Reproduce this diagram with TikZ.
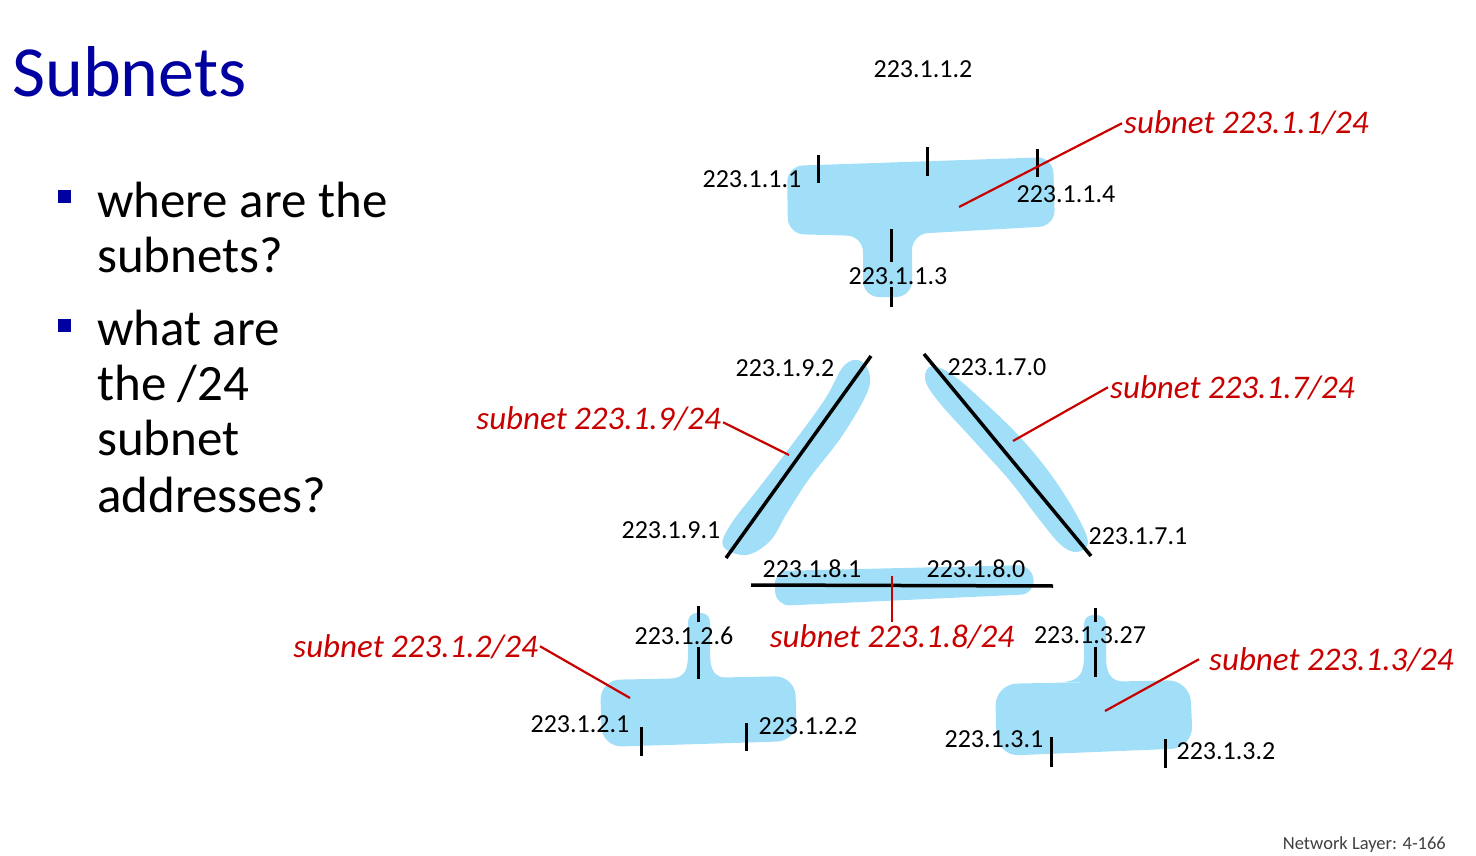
\documentclass[tikz,border=0pt]{standalone}
\usepackage{fontspec}
\setmainfont{Carlito}
\usetikzlibrary{positioning}
\definecolor{blobblue}{RGB}{160,223,247}
\definecolor{titleblue}{RGB}{0,0,160}
\definecolor{subnetred}{RGB}{200,0,0}
\begin{document}
\begin{tikzpicture}[x=1pt,y=-1pt]
	\tikzstyle{addr} = [inner sep=0pt, anchor=base, font=\fontsize{26}{30}\selectfont]
	\tikzstyle{subnet} = [inner sep=2pt, text=subnetred, font=\fontsize{33}{38}\selectfont\itshape]
	\tikzstyle{blob} = [fill=blobblue]
	\tikzstyle{link} = [draw, line width=3.5pt]
	\tikzstyle{iface} = [fill=black, inner sep=0pt, minimum width=3pt]
	\tikzstyle{leader} = [draw=subnetred, line width=2.2pt]
	\tikzstyle{line} = [anchor=base west, inner sep=0pt, font=\fontsize{51}{55}\selectfont]
	\tikzstyle{bulletsq} = [fill=titleblue, minimum size=13pt, inner sep=0pt]

	\useasboundingbox (0,0) rectangle (1476,856);

	% title and questions
	\node [anchor=base west, inner sep=0pt, text=titleblue, font=\fontsize{72}{80}\selectfont] (title) at (12,97) {Subnets};
	\node [bulletsq] (sq1) at (64,196.5) {};
	\node [line] (q1a) at (97,217) {where are the};
	\node [line] (q1b) at (97,272) {subnets?};
	\node [bulletsq] (sq2) at (64,325) {};
	\node [line] (q2a) at (97,345) {what are};
	\node [line] (q2b) at (97,400) {the /24};
	\node [line] (q2c) at (97,455) {subnet};
	\node [line] (q2d) at (97,512) {addresses?};

	% subnet 223.1.1
	\fill [blob, rounded corners=16pt] (787,166) -- (1053,157) -- (1055,226) -- (912,234) -- (912,297) -- (863,297) -- (863,236) -- (788,234) -- cycle;
	% subnet 223.1.2
	\fill [blob, rounded corners=20pt] (600,680) -- (795,676) -- (797,741) -- (602,747) -- cycle;
	\fill [blob, rounded corners=9pt] (688,690) -- (688,613) -- (710,613) -- (710,690) -- cycle;
	\fill [blob] (668,679) .. controls (686,678) and (688,670) .. (688,652) -- (710,652) .. controls (710,670) and (713,678) .. (732,679) -- cycle;
	% subnet 223.1.3
	\fill [blob, rounded corners=22pt] (995,684) -- (1190,680) -- (1193,748) -- (997,756) -- cycle;
	\fill [blob, rounded corners=9pt] (1084,695) -- (1084,615) -- (1106,615) -- (1106,695) -- cycle;
	\fill [blob] (1062,682) .. controls (1081,681) and (1084,672) .. (1084,655) -- (1106,655) .. controls (1106,672) and (1109,681) .. (1125,682) -- cycle;
	% router links
	\fill [blob] plot [smooth cycle, tension=0.6] coordinates {(858,360) (869,372) (867,393) (842,436) (809,479) (787,513) (770,541) (746,555) (723,546) (731,524) (758,489) (791,446) (825,399) (843,367)};
	\fill [blob] plot [smooth cycle, tension=0.6] coordinates {(932,366) (954,376) (984,402) (1019,436) (1049,472) (1075,512) (1088,542) (1077,552) (1061,545) (1039,519) (1010,481) (974,441) (938,401) (925,379)};
	\fill [blob, rounded corners=14pt] (774,571) -- (1032,565) -- (1035,594) -- (776,606) -- cycle;

	\coordinate (r9a) at (871,356);
	\coordinate (r9b) at (726,558);
	\coordinate (r7a) at (924,354);
	\coordinate (r7b) at (1091,556);
	\coordinate (r8a) at (751,585);
	\coordinate (r8b) at (1053,586);
	\draw [link] (r9a) -- (r9b);
	\draw [link] (r7a) -- (r7b);
	\draw [link] (r8a) -- (r8b);

	% interfaces
	\node [iface, minimum height=28pt] (i111) at (818,169) {};
	\node [iface, minimum height=29pt] (i112) at (927,161.5) {};
	\node [iface, minimum height=28pt] (i114) at (1037,163) {};
	\node [iface, minimum height=33pt] (i113) at (891,245.5) {};
	\node [iface, minimum height=20pt] (i113b) at (891,297) {};
	\node [iface, minimum height=16pt] (i126) at (698,614) {};
	\node [iface, minimum height=32pt] (i126b) at (698,663) {};
	\node [iface, minimum height=29pt] (i121) at (641,741.5) {};
	\node [iface, minimum height=28pt] (i122) at (746,737) {};
	\node [iface, minimum height=14pt] (i1327) at (1095,615) {};
	\node [iface, minimum height=30pt] (i1327b) at (1095,662) {};
	\node [iface, minimum height=30pt] (i131) at (1051,752) {};
	\node [iface, minimum height=29pt] (i132) at (1165,753.5) {};

	% addresses
	\node [addr] (a112) at (923,78) {223.1.1.2};
	\node [addr] (a111) at (752,188) {223.1.1.1};
	\node [addr] (a114) at (1066,203) {223.1.1.4};
	\node [addr] (a113) at (898,284) {223.1.1.3};
	\node [addr] (a192) at (785,376) {223.1.9.2};
	\node [addr] (a170) at (997,375) {223.1.7.0};
	\node [addr] (a191) at (671,538) {223.1.9.1};
	\node [addr] (a171) at (1138,544) {223.1.7.1};
	\node [addr] (a181) at (812,577) {223.1.8.1};
	\node [addr] (a180) at (976,577) {223.1.8.0};
	\node [addr] (a126) at (684,644) {223.1.2.6};
	\node [addr] (a121) at (580,732) {223.1.2.1};
	\node [addr] (a122) at (808,734) {223.1.2.2};
	\node [addr] (a1327) at (1090,643) {223.1.3.27};
	\node [addr] (a131) at (994,747) {223.1.3.1};
	\node [addr] (a132) at (1226,759) {223.1.3.2};

	% subnet labels
	\node [subnet, anchor=base west] (s1) at (1122,134) {subnet 223.1.1/24};
	\node [subnet, anchor=base west] (s7) at (1108,398) {subnet 223.1.7/24};
	\node [subnet, anchor=base east] (s9) at (723,429) {subnet 223.1.9/24};
	\node [subnet, anchor=base] (s8) at (892,647) {subnet 223.1.8/24};
	\node [subnet, anchor=base east] (s2) at (540,657) {subnet 223.1.2/24};
	\node [subnet, anchor=base west] (s3) at (1207,670) {subnet 223.1.3/24};

	\coordinate (c1) at (959,207);
	\coordinate (c7) at (1013,441);
	\coordinate (c9) at (789,455);
	\coordinate (c8) at (892,576);
	\coordinate (c2) at (630,698);
	\coordinate (c3) at (1105,711);
	\draw [leader] (s1.west) -- (c1);
	\draw [leader] (s7.west) -- (c7);
	\draw [leader] ([yshift=-4pt]s9.east) -- (c9);
	\draw [leader] (s8.north) -- (c8);
	\draw [leader] (s2.east) -- (c2);
	\draw [leader] ([xshift=-8pt]s3.west) -- (c3);

	\node [anchor=base east, inner sep=0pt, text=black!75, font=\fontsize{18.5}{22}\selectfont] (foot) at (1446,849) {Network Layer: 4-166};
\end{tikzpicture}
\end{document}
